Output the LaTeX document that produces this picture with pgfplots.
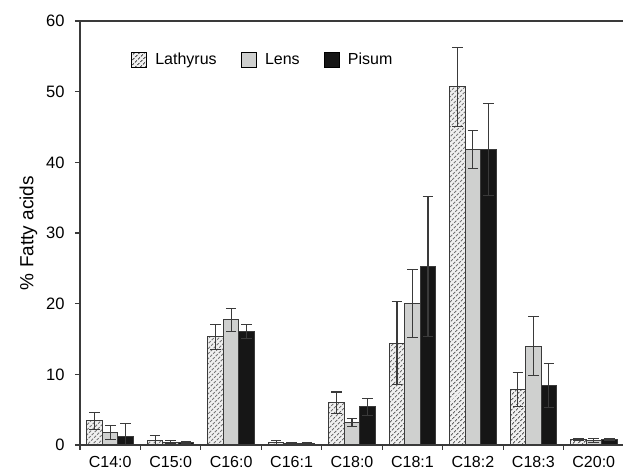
\documentclass[border=0pt]{standalone}
\usepackage{pgfplots}
\pgfplotsset{compat=1.18}
\usepackage{fontspec}
\setmainfont{Liberation Sans}
\usetikzlibrary{patterns.meta}
\definecolor{axgray}{HTML}{3A3A3A}
\definecolor{lensgray}{HTML}{CFD0CF}
\definecolor{pisumblack}{HTML}{161616}
\definecolor{hatchbg}{HTML}{F0F0F0}
\definecolor{hatchfg}{HTML}{606060}

\pgfplotstableread{
x  y    e
0  3.4  1.2
1  0.7  0.6
2  15.3 1.8
3  0.3  0.4
4  6.0  1.5
5  14.4 5.9
6  50.7 5.6
7  7.9  2.4
8  0.8  0.15
}\lathyrus
\pgfplotstableread{
x  y    e
0  1.8  1.0
1  0.4  0.2
2  17.7 1.6
3  0.2  0.15
4  3.2  0.6
5  20.0 4.8
6  41.8 2.7
7  14.0 4.2
8  0.6  0.3
}\lens
\pgfplotstableread{
x  y    e
0  1.2  1.9
1  0.4  0.15
2  16.1 1.0
3  0.2  0.1
4  5.4  1.2
5  25.3 9.9
6  41.8 6.5
7  8.4  3.1
8  0.8  0.15
}\pisum

\begin{document}
\fontsize{16bp}{19bp}\selectfont
\begin{tikzpicture}
\begin{axis}[
  name=ax,
  scale only axis,
  width=544bp, height=424bp,
  xmin=-0.5, xmax=8.5,
  ymin=0, ymax=60,
  ybar=0pt,
  bar width=15.5bp,
  axis lines*=left,
  axis line style={axgray, line width=1.1bp},
  every tick/.style={axgray, line width=1.1bp},
  tick align=outside,
  xtick={0,...,8},
  xticklabels={C14:0,C15:0,C16:0,C16:1,C18:0,C18:1,C18:2,C18:3,C20:0},
  major x tick style={draw=none},
  minor xtick={-0.5,0.5,...,8.5},
  minor tick length=5bp,
  ytick={0,10,...,60},
  major tick length=5bp,
  /pgf/number format/assume math mode=true,
  tick label style={font=\fontsize{16bp}{19bp}\selectfont},
  xticklabel style={yshift=-1bp},
  yticklabel style={font=\fontsize{16.5bp}{19bp}\selectfont, xshift=-5bp},
  ylabel={\% Fatty acids},
  ylabel style={font=\fontsize{19bp}{22bp}\selectfont, yshift=-2bp},
  error bars/y dir=both,
  error bars/y explicit,
  error bars/error bar style={axgray, line width=1.1bp},
  error bars/error mark options={rotate=90, mark size=5.3bp, line width=1.1bp, axgray},
  legend columns=-1,
  legend style={at={(rel axis cs:0.088,0.908)}, anchor=west, draw=none, fill=none,
    font=\fontsize{16bp}{19bp}\selectfont,
    /tikz/every odd column/.append style={column sep=6bp},
    /tikz/every even column/.append style={column sep=22bp}},
  legend image code/.code={\draw[#1, line width=1.3bp, draw=black] (0bp,-7.5bp) rectangle (15bp,7.5bp);},
]
\addplot[draw=axgray, line width=1bp, fill=hatchbg,
  postaction={pattern={Lines[angle=45,distance=3.6bp,line width=1.2bp]}, pattern color=hatchfg}]
  table[x=x, y=y, y error=e] {\lathyrus};
\addlegendentry{Lathyrus}
\addplot[draw=axgray, line width=1bp, fill=lensgray]
  table[x=x, y=y, y error=e] {\lens};
\addlegendentry{Lens}
\addplot[draw=axgray, line width=1bp, fill=pisumblack]
  table[x=x, y=y, y error=e] {\pisum};
\addlegendentry{Pisum}
\draw[axgray, line width=1.1bp] (rel axis cs:0,1) -- (rel axis cs:1,1);
\end{axis}
\pgfresetboundingbox
\path[use as bounding box] ([xshift=-80bp,yshift=-26bp]ax.south west) rectangle ([xshift=-1bp,yshift=21bp]ax.north east);
\end{tikzpicture}
\end{document}
